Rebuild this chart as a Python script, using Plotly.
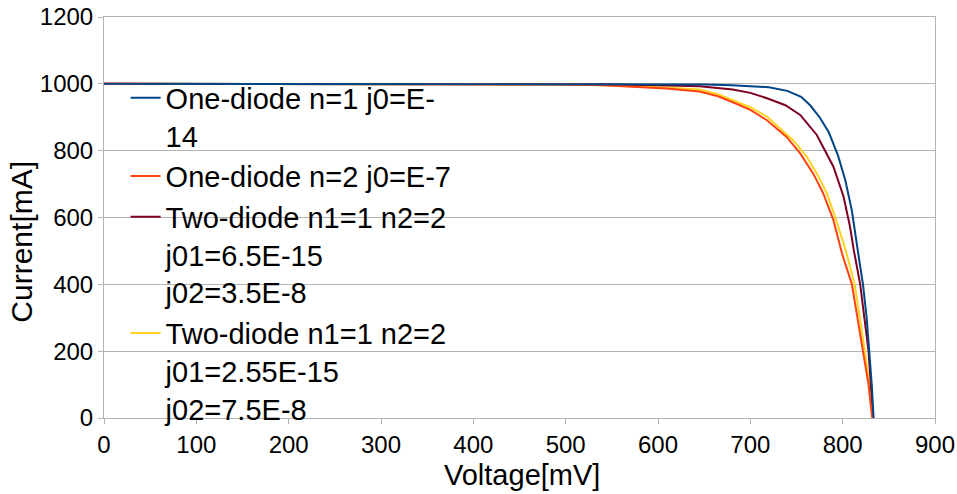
import plotly.graph_objects as go

# One-diode n=1 j0=E-14
v_blue = [0, 100, 200, 300, 400, 500, 600, 650, 680, 700, 720, 740, 755, 765, 775, 785, 795, 803, 810, 817, 822, 826, 829, 831.5, 833.5]
i_blue = [1000, 1000, 1000, 1000, 1000, 1000, 999, 998, 996, 994, 990, 979, 961, 935, 900, 855, 785, 710, 620, 490, 400, 300, 200, 100, 0]

# One-diode n=2 j0=E-7
v_orange = [0, 100, 200, 300, 400, 450, 500, 540, 573, 609, 645, 665, 681, 700, 718, 739, 754, 768, 779, 790, 799, 810, 822, 828, 832]
i_orange = [1000, 1000, 1000, 1000, 1000, 1000, 999, 996, 991, 986, 977, 963, 945, 922, 891, 842, 792, 732, 672, 592, 495, 400, 200, 100, 0]

# Two-diode n1=1 n2=2 j01=6.5E-15 j02=3.5E-8
v_maroon = [0, 100, 200, 300, 400, 500, 550, 600, 645, 681, 700, 718, 738, 754, 772, 790, 801, 808, 812, 819, 828, 830.5, 833]
i_maroon = [1000, 1000, 1000, 1000, 1000, 1000, 998, 996, 993, 983, 973, 957, 936, 907, 847, 752, 662, 572, 503, 400, 200, 100, 0]

# Two-diode n1=1 n2=2 j01=2.55E-15 j02=7.5E-8
v_yellow = [0, 100, 200, 300, 400, 450, 500, 550, 609, 645, 665, 681, 700, 718, 746, 761, 772, 783, 793, 804, 813, 824, 829, 833]
i_yellow = [1000, 1000, 1000, 1000, 1000, 1000, 998, 995, 989, 983, 969, 951, 930, 902, 832, 782, 732, 672, 592, 495, 400, 200, 100, 0]

names = [
    "One-diode n=1 j0=E-<br>14",
    "One-diode n=2 j0=E-7",
    "Two-diode n1=1 n2=2<br>j01=6.5E-15<br>j02=3.5E-8",
    "Two-diode n1=1 n2=2<br>j01=2.55E-15<br>j02=7.5E-8",
]
colors = ["#004586", "#ff420e", "#7e0021", "#ffd320"]
series = [(v_blue, i_blue), (v_orange, i_orange), (v_maroon, i_maroon), (v_yellow, i_yellow)]

fig = go.Figure()
for k in [3, 2, 1, 0]:
    vx, iy = series[k]
    fig.add_trace(go.Scatter(x=vx, y=iy, mode="lines", name=names[k],
                             line=dict(color=colors[k], width=2),
                             legendrank=k + 1))

FONT = "Liberation Sans, Arial, sans-serif"
grid = "#b3b3b3"
fig.update_layout(
    width=957, height=494,
    margin=dict(l=104, r=22, t=17, b=76),
    paper_bgcolor="white", plot_bgcolor="white",
    font=dict(family=FONT, size=24, color="black"),
    legend=dict(x=0.026, y=0.862, xanchor="left", yanchor="top", valign="top",
                bgcolor="rgba(0,0,0,0)", font=dict(size=29, family=FONT, color="black"),
                tracegroupgap=0, itemwidth=30),
    showlegend=True,
    annotations=[
        dict(text="Voltage[mV]", xref="paper", yref="paper", x=0.503, y=-0.142,
             xanchor="center", yanchor="middle", showarrow=False,
             font=dict(size=29, family=FONT, color="black")),
        dict(text="Current[mA]", xref="paper", yref="paper", x=-0.0993, y=0.441,
             xanchor="center", yanchor="middle", showarrow=False, textangle=-90,
             font=dict(size=30, family=FONT, color="black")),
    ],
)
fig.update_xaxes(range=[0, 900], dtick=100, showgrid=False, showline=True, linecolor=grid,
                 linewidth=1, mirror=True, ticks="outside", ticklen=5, tickcolor=grid,
                 tickfont=dict(size=24), zeroline=False, automargin=False)
fig.update_yaxes(range=[0, 1200], dtick=200, showgrid=True, gridcolor=grid, gridwidth=1,
                 showline=True, linecolor=grid, linewidth=1, mirror=True,
                 ticks="outside", ticklen=5, tickcolor=grid,
                 tickfont=dict(size=24), zeroline=False, automargin=False)

fig.write_html("out.html")
